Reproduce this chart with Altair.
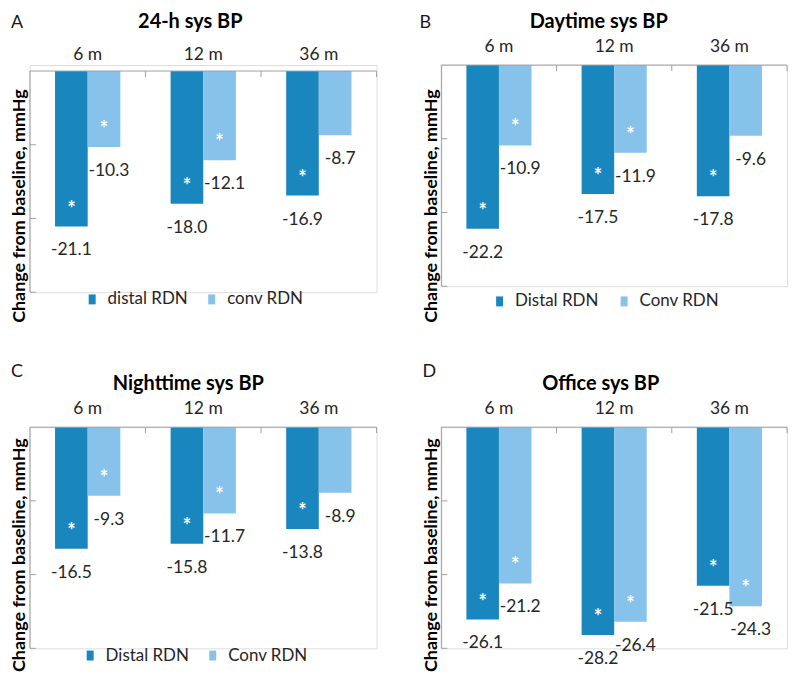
import altair as alt
import pandas as pd

# ---------------- data ----------------
months = ["6 m", "12 m", "36 m"]
y_tick_values = [-10, -20, -30]

letters = ["A", "B", "C", "D"]
titles = ["24-h sys BP", "Daytime sys BP", "Nighttime sys BP", "Office sys BP"]
group_names = [
    ["distal RDN", "conv RDN"],
    ["Distal RDN", "Conv RDN"],
    ["Distal RDN", "Conv RDN"],
    ["Distal RDN", "Conv RDN"],
]
distal_vals = [
    [-21.1, -18.0, -16.9],
    [-22.2, -17.5, -17.8],
    [-16.5, -15.8, -13.8],
    [-26.1, -28.2, -21.5],
]
conv_vals = [
    [-10.3, -12.1, -8.7],
    [-10.9, -11.9, -9.6],
    [-9.3, -11.7, -8.9],
    [-21.2, -26.4, -24.3],
]
distal_sig = [
    [True, True, True],
    [True, True, True],
    [True, True, True],
    [True, True, True],
]
conv_sig = [
    [True, True, False],
    [True, True, False],
    [True, True, False],
    [True, True, True],
]
show_legend = [True, True, True, False]

# ---------------- style ----------------
DARK = "#1A86BE"
LIGHT = "#87C2EA"
GRAY = "#A0A0A0"
TXT = "#262626"
FONT = "Lato"
BASE_H = 222  # pixels spanned by 0 .. -30

layout = [
    dict(width=348, zero_px=6, label_pad=1.3, letter_x=-19, letter_y=-37,
         title_x=161, title_y=-37, ytitle_y=141, legend_x=54, legend_y=226.5,
         col_pad=15),
    dict(width=347, zero_px=0, label_pad=9.3, letter_x=-22, letter_y=-37,
         title_x=158, title_y=-37, ytitle_y=141, legend_x=50, legend_y=228.5,
         col_pad=17),
    dict(width=348, zero_px=0, label_pad=9.3, letter_x=-19, letter_y=-50,
         title_x=159, title_y=-37, ytitle_y=128, legend_x=52, legend_y=220.5,
         col_pad=15),
    dict(width=347, zero_px=0, label_pad=9.3, letter_x=-19, letter_y=-50,
         title_x=160, title_y=-37, ytitle_y=128, legend_x=54, legend_y=220.5,
         col_pad=15),
]


def build_panel(i):
    names = group_names[i]
    L = layout[i]
    rows = []
    for m, dv, cv, ds, cs in zip(months, distal_vals[i], conv_vals[i],
                                 distal_sig[i], conv_sig[i]):
        rows.append(dict(month=m, group=names[0], value=dv,
                         label=f"{dv:.1f}", star="*" if ds else ""))
        rows.append(dict(month=m, group=names[1], value=cv,
                         label=f"{cv:.1f}", star="*" if cs else ""))
    df = pd.DataFrame(rows)

    zp = L["zero_px"]
    height = BASE_H + zp
    ytop = 30.0 * zp / BASE_H

    xscale = alt.Scale(domain=months, paddingInner=0, paddingOuter=0)
    xaxis = alt.Axis(orient="top", title=None, ticks=False, tickSize=0,
                     labelPadding=L["label_pad"], labelFont=FONT,
                     labelFontSize=17.5, labelColor=TXT, labelAngle=0,
                     domain=False, grid=False)
    yscale = alt.Scale(domain=[-30, ytop], nice=False, zero=False)
    yaxis = alt.Axis(orient="left", labels=False, ticks=False, tickSize=0,
                     grid=False, domain=False,
                     title="Change from baseline, mmHg", titleFont=FONT,
                     titleFontSize=18, titleFontWeight="bold", titleColor="black",
                     titleAngle=270, titleBaseline="bottom", titleAlign="center",
                     titleX=-1, titleY=L["ytitle_y"])
    offscale = alt.Scale(domain=names, paddingInner=0, paddingOuter=0.77)

    if show_legend[i]:
        legend = alt.Legend(orient="none", legendX=L["legend_x"],
                            legendY=L["legend_y"], direction="horizontal",
                            title=None,
                            symbolType="M-0.7,-1L0.7,-1L0.7,1L-0.7,1Z",
                            symbolSize=100, symbolStrokeWidth=0,
                            labelFont=FONT, labelFontSize=17, labelColor=TXT,
                            labelOffset=7, columnPadding=L["col_pad"], padding=0)
    else:
        legend = None

    base = alt.Chart(df)
    X = alt.X("month:N", scale=xscale, axis=xaxis, sort=months)
    XO = alt.XOffset("group:N", scale=offscale, sort=names)
    Y = alt.Y("value:Q", scale=yscale, axis=yaxis)

    bars = base.mark_bar().encode(
        x=X, xOffset=XO, y=Y, y2=alt.Y2Datum(0),
        color=alt.Color("group:N", scale=alt.Scale(domain=names, range=[DARK, LIGHT]),
                        legend=legend, sort=names),
    )
    lab_d = base.transform_filter(alt.datum.group == names[0]).mark_text(
        font=FONT, fontSize=17.5, color=TXT, baseline="middle", dy=24
    ).encode(x=X, xOffset=XO, y=Y, text="label:N")
    lab_c = base.transform_filter(alt.datum.group == names[1]).mark_text(
        font=FONT, fontSize=17.5, color=TXT, baseline="middle", dy=24, dx=5
    ).encode(x=X, xOffset=XO, y=Y, text="label:N")
    stars = base.transform_filter(alt.datum.star == "*").mark_text(
        font=FONT, fontSize=20, color="white", baseline="middle", dy=-17,
        fontWeight="bold"
    ).encode(x=X, xOffset=XO, y=Y, text="star:N")

    # axis lines (zero line on top, vertical axis on left)
    axis_df = pd.DataFrame({"value": [0], "end": [-30]})
    zero_line = alt.Chart(axis_df).mark_rule(color=GRAY, strokeWidth=1).encode(
        y=Y, x=alt.value(0), x2=alt.value(L["width"]))
    y_line = alt.Chart(axis_df).mark_rule(color=GRAY, strokeWidth=1).encode(
        y=Y, y2=alt.Y2("end:Q"), x=alt.value(0))

    tick_df1 = pd.DataFrame({"month": months[1:]})
    tick_df2 = pd.DataFrame({"month": months[-1:]})
    xt1 = alt.Chart(tick_df1).mark_rule(color=GRAY, strokeWidth=1).encode(
        x=alt.X("month:N", scale=xscale, axis=xaxis, sort=months, bandPosition=0),
        y=alt.value(zp), y2=alt.value(zp + 6))
    xt2 = alt.Chart(tick_df2).mark_rule(color=GRAY, strokeWidth=1).encode(
        x=alt.X("month:N", scale=xscale, axis=xaxis, sort=months, bandPosition=1),
        y=alt.value(zp), y2=alt.value(zp + 6))
    yt = alt.Chart(pd.DataFrame({"value": y_tick_values})).mark_rule(
        color=GRAY, strokeWidth=1).encode(
        y=Y, x=alt.value(0), x2=alt.value(6))
    letter = alt.Chart(pd.DataFrame({"t": [letters[i]]})).mark_text(
        font=FONT, fontSize=18, color="#1a1a1a", align="left",
        baseline="alphabetic").encode(
        text="t:N", x=alt.value(L["letter_x"]), y=alt.value(L["letter_y"]))
    title = alt.Chart(pd.DataFrame({"t": [titles[i]]})).mark_text(
        font=FONT, fontSize=20, fontWeight="bold", color="black", align="center",
        baseline="alphabetic").encode(
        text="t:N", x=alt.value(L["title_x"]), y=alt.value(L["title_y"]))

    return alt.layer(bars, lab_d, lab_c, stars, zero_line, y_line, xt1, xt2, yt,
                     letter, title).properties(width=L["width"], height=height)


def indep(c):
    return c.resolve_scale(color="independent", xOffset="independent").resolve_legend(
        color="independent")


panels = [build_panel(i) for i in range(4)]
left_col = indep(alt.vconcat(panels[0], panels[2], spacing=39.5))
right_col = indep(alt.vconcat(panels[1], panels[3], spacing=39.5))

chart = indep(alt.hconcat(left_col, right_col, spacing=41)).properties(
    padding={"left": 2, "top": 2, "right": 0, "bottom": 0}).configure_view(
    strokeWidth=0).configure(font=FONT)

chart.save("out.html", embed_options={"renderer": "svg", "actions": False})
